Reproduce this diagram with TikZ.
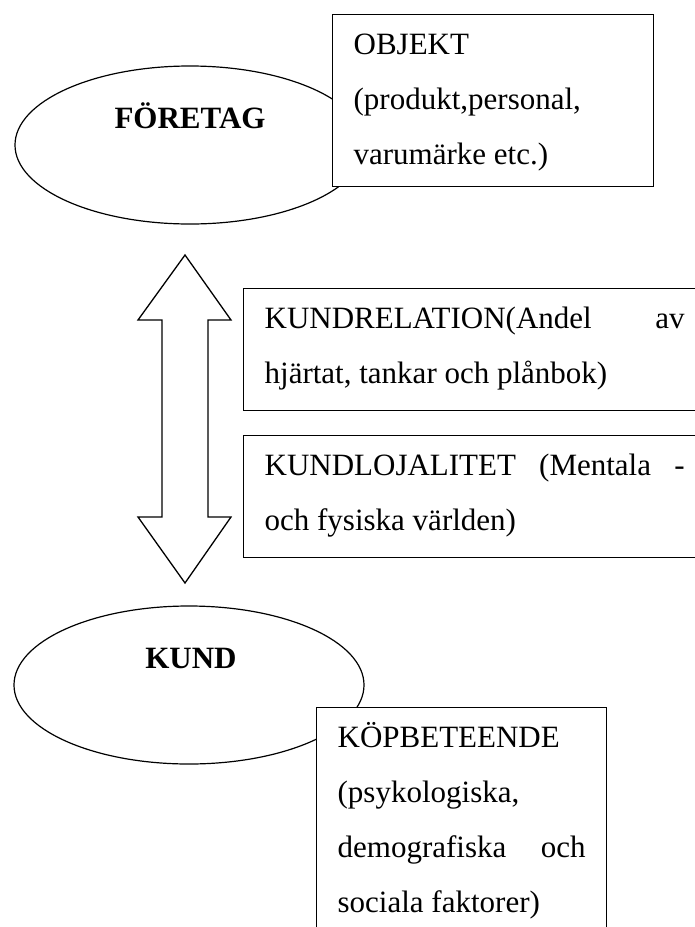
\documentclass[tikz,border=0pt]{standalone}
\usepackage{fontspec}
\setmainfont{Liberation Serif}
\usetikzlibrary{shapes.geometric}
\newcommand{\boxlines}[3]{\parbox[t][#2][t]{#1}{\fontsize{31pt}{55pt}\selectfont\raggedright\rule{0pt}{40pt}#3}}
\tikzset{
  oval/.style={draw, line width=1.2pt, ellipse, minimum width=350pt, minimum height=158pt, inner sep=0pt},
  infobox/.style={draw, line width=1.3pt, fill=white, anchor=north west, inner xsep=21pt, inner ysep=0pt},
  ovaltext/.style={anchor=base, font=\fontsize{31pt}{37pt}\selectfont\bfseries, inner sep=0pt},
  bigarrow/.style={draw, line width=1.3pt, fill=white, line join=miter}
}
\begin{document}
\begin{tikzpicture}[x=1pt, y=-1pt]
\useasboundingbox (0,0) rectangle (695,927);
\clip (0,0) rectangle (695,927);
\fill[white] (0,0) rectangle (695,927);

% ellipses
\node[oval] (foretag) at (190,145) {};
\node[ovaltext] (foretagtxt) at (190,128) {FÖRETAG};
\node[oval] (kund) at (189,685) {};
\node[ovaltext] (kundtxt) at (191,668) {KUND};

% boxes
\node[infobox] (objekt) at (332,14) {\boxlines{279pt}{172pt}{OBJEKT\\(produkt,personal,\\varumärke etc.)}};
\node[infobox] (relation) at (243,288) {\boxlines{420pt}{122pt}{KUNDRELATION(Andel\hfill av\\hjärtat, tankar och plånbok)}};
\node[infobox] (lojalitet) at (243,435) {\boxlines{420pt}{122pt}{KUNDLOJALITET\hfill(Mentala\hfill-\\och fysiska världen)}};
\node[infobox] (kop) at (316,707) {\boxlines{248pt}{250pt}{KÖPBETEENDE\\(psykologiska,\\demografiska\hfill och\\sociala faktorer)}};

% double block arrow
\path[bigarrow] (185,255) -- (231,320) -- (208,320) -- (208,517) -- (231,517)
  -- (185,583) -- (138,517) -- (162,517) -- (162,320) -- (138,320) -- cycle;
\end{tikzpicture}
\end{document}
